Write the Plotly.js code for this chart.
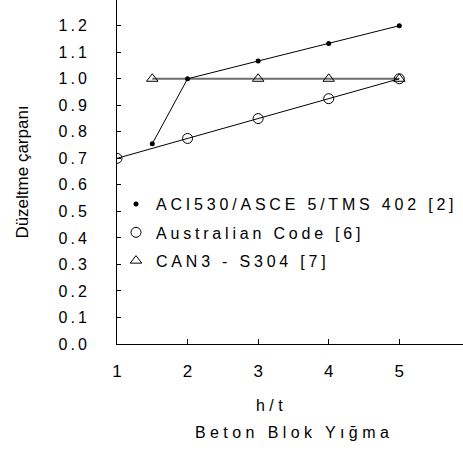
<!DOCTYPE html>
<html>
<head>
<meta charset="utf-8">
<script src="https://cdn.plot.ly/plotly-3.0.1.min.js"></script>
<style>
  html, body { margin: 0; padding: 0; background: #fff; }
  #chart { width: 463px; height: 450px; }
  .legendtext { letter-spacing: 3.8px; }
  .ytick text, text.ytick { letter-spacing: 3px; }
  .annotation-text { letter-spacing: 4.4px; }
</style>
</head>
<body>
<div id="chart"></div>
<script>
// Data
const xACI = [1.5, 2, 3, 4, 5];
const yACI = [0.755, 1.0, 1.067, 1.133, 1.2];
const xAus = [1, 2, 3, 4, 5];
const yAus = [0.7, 0.775, 0.85, 0.925, 1.0];
const xCan = [1.5, 3, 4, 5];
const yCan = [1.0, 1.0, 1.0, 1.0];
const seriesNames = ['ACI530/ASCE 5/TMS 402 [2]', 'Australian Code [6]', 'CAN3 - S304 [7]'];
const xTicks = [1, 2, 3, 4, 5];
const yTicks = [0, 0.1, 0.2, 0.3, 0.4, 0.5, 0.6, 0.7, 0.8, 0.9, 1.0, 1.1, 1.2];
const xTitleTop = 'h/t';
const xTitleBottom = 'Beton Blok Yığma';
const yTitle = 'Düzeltme çarpanı';

const font = 'Arial, "Liberation Sans", sans-serif';

const traces = [
  { x: xCan, y: yCan, mode: 'lines+markers', showlegend: false, hoverinfo: 'skip',
    line: { color: '#6e6e6e', width: 2 },
    marker: { symbol: 'triangle-up-open', size: 10, color: '#000', line: { width: 1, color: '#000' } } },
  { x: xAus, y: yAus, mode: 'lines+markers', showlegend: false, hoverinfo: 'skip',
    line: { color: '#000', width: 1 },
    marker: { symbol: 'circle-open', size: 10, color: '#000', line: { width: 1, color: '#000' } } },
  { x: xACI, y: yACI, mode: 'lines+markers', showlegend: false, hoverinfo: 'skip',
    line: { color: '#000', width: 1 },
    marker: { symbol: 'circle', size: 5, color: '#000' } },
  // legend entries (markers only)
  { x: [null], y: [null], mode: 'markers', name: seriesNames[0], legendgroup: 'g1',
    marker: { symbol: 'circle', size: 5, color: '#000' } },
  { x: [null], y: [null], mode: 'markers', name: seriesNames[1], legendgroup: 'g2',
    marker: { symbol: 'circle-open', size: 10, color: '#000', line: { width: 1, color: '#000' } } },
  { x: [null], y: [null], mode: 'markers', name: seriesNames[2], legendgroup: 'g3',
    marker: { symbol: 'triangle-up-open', size: 10, color: '#000', line: { width: 1, color: '#000' } } }
];

const layout = {
  width: 463, height: 450,
  margin: { l: 117, r: 0, t: 0, b: 106, pad: 0 },
  paper_bgcolor: '#fff', plot_bgcolor: '#fff',
  font: { family: font, color: '#000', size: 16 },
  showlegend: true,
  legend: {
    x: 0.0, xanchor: 'left', y: 0.456, yanchor: 'top',
    bgcolor: 'rgba(0,0,0,0)', borderwidth: 0,
    font: { family: font, size: 16, color: '#000' },
    itemwidth: 30, traceorder: 'grouped', tracegroupgap: 4.5
  },
  xaxis: {
    range: [1, 5.903], tickvals: xTicks, ticktext: xTicks.map(String),
    ticks: 'inside', ticklen: 5, tickcolor: '#000', tickwidth: 1,
    showline: true, linecolor: '#000', linewidth: 1,
    showgrid: false, zeroline: false,
    tickfont: { family: font, size: 17, color: '#000' },
    ticklabelstandoff: 12
  },
  yaxis: {
    range: [0, 1.297], tickvals: yTicks, tickformat: '.1f',
    ticks: 'inside', ticklen: 4, tickcolor: '#000', tickwidth: 1,
    showline: true, linecolor: '#000', linewidth: 1,
    showgrid: false, zeroline: false,
    tickfont: { family: font, size: 16, color: '#000' },
    ticklabelstandoff: 23,
    title: { text: yTitle, font: { family: font, size: 17, color: '#000' }, standoff: 25 }
  },
  annotations: [
    { text: xTitleTop, xref: 'paper', yref: 'paper', x: 0.4465, y: -0.178,
      xanchor: 'center', yanchor: 'middle', showarrow: false,
      font: { family: font, size: 16, color: '#000' } },
    { text: xTitleBottom, xref: 'paper', yref: 'paper', x: 0.513, y: -0.257,
      xanchor: 'center', yanchor: 'middle', showarrow: false,
      font: { family: font, size: 16, color: '#000' } }
  ]
};

Plotly.newPlot('chart', traces, layout, { staticPlot: true, displayModeBar: false });
</script>
</body>
</html>
